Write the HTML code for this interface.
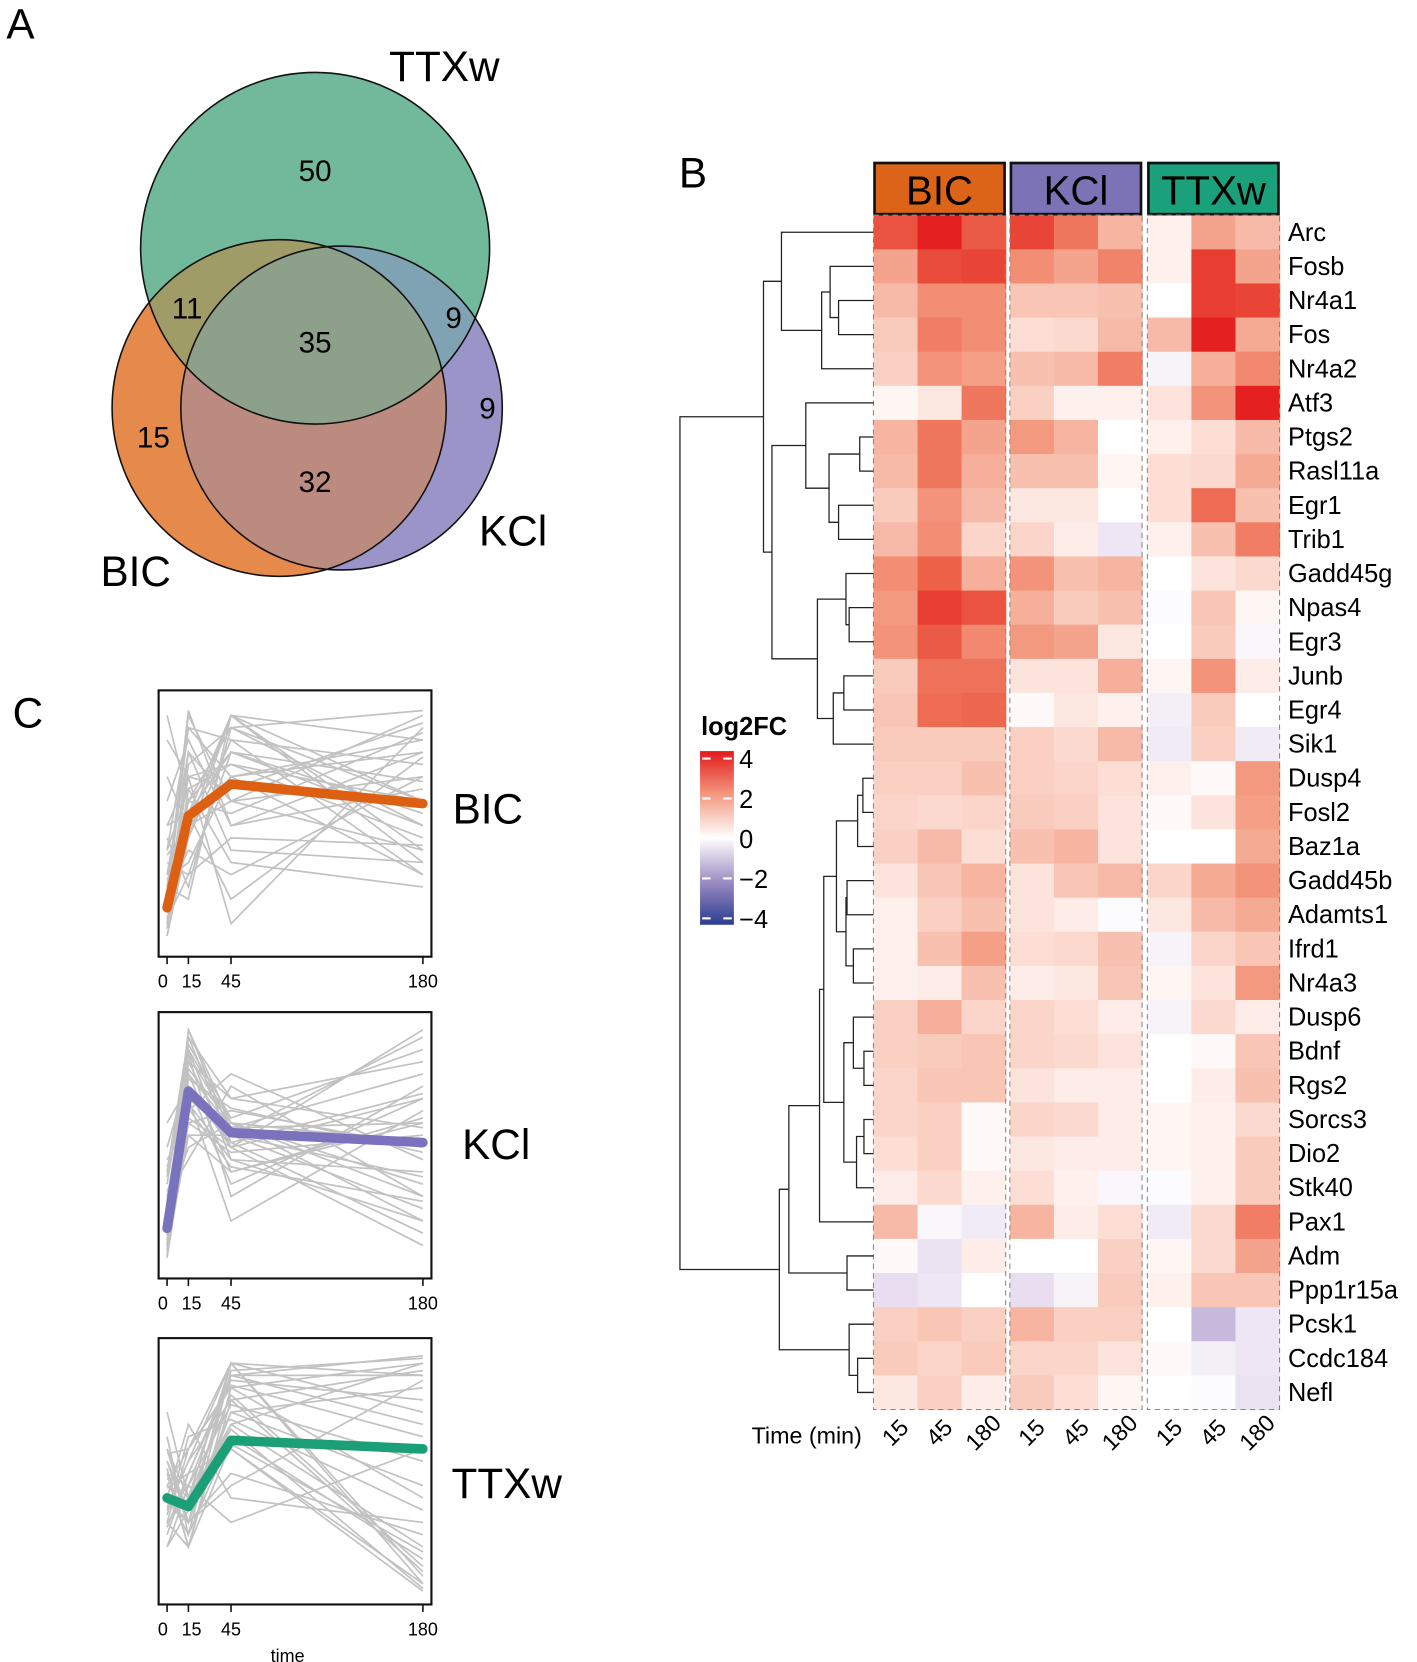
<!DOCTYPE html>
<html><head><meta charset="utf-8"><style>
html,body{margin:0;padding:0;background:#fff;}
svg{display:block;font-family:"Liberation Sans",sans-serif;}
</style></head><body>
<svg id="fig" width="1417" height="1662" viewBox="0 0 1340 1560" preserveAspectRatio="none" xmlns="http://www.w3.org/2000/svg">
<defs>
<linearGradient id="lg" x1="0" y1="0" x2="0" y2="1">
<stop offset="0" stop-color="#e31a1c"/><stop offset="0.25" stop-color="#f3997f"/><stop offset="0.5" stop-color="#ffffff"/><stop offset="0.75" stop-color="#9d8dc3"/><stop offset="1" stop-color="#2b3c8f"/>
</linearGradient>
<clipPath id="cT"><circle cx="298" cy="233" r="165"/></clipPath>
<clipPath id="cK"><circle cx="323" cy="383" r="152"/></clipPath>
</defs>
<!-- Panel A: Venn -->
<g>
<text x="6" y="36" font-size="40">A</text>
<circle cx="264" cy="383" r="158" fill="#e58a4a"/>
<circle cx="323" cy="383" r="152" fill="#9a94c8"/>
<circle cx="298" cy="233" r="165" fill="#72b89b"/>
<g clip-path="url(#cT)"><circle cx="264" cy="383" r="158" fill="#a09c68"/><circle cx="323" cy="383" r="152" fill="#80a3b3"/></g>
<g clip-path="url(#cK)"><circle cx="264" cy="383" r="158" fill="#bc8b80"/></g>
<g clip-path="url(#cT)"><g clip-path="url(#cK)"><circle cx="264" cy="383" r="158" fill="#8ca08a"/></g></g>
<circle cx="264" cy="383" r="158" fill="none" stroke="#111" stroke-width="1.5"/>
<circle cx="323" cy="383" r="152" fill="none" stroke="#111" stroke-width="1.5"/>
<circle cx="298" cy="233" r="165" fill="none" stroke="#111" stroke-width="1.5"/>
<g font-size="28" text-anchor="middle">
<text x="298" y="170">50</text>
<text x="177" y="299">11</text>
<text x="298" y="331">35</text>
<text x="429" y="308">9</text>
<text x="461" y="393">9</text>
<text x="145" y="420">15</text>
<text x="298" y="462">32</text>
</g>
<text x="368" y="76" font-size="40">TTXw</text>
<text x="95" y="550" font-size="40">BIC</text>
<text x="453" y="512" font-size="40">KCl</text>
</g>
<text x="642" y="176" font-size="40">B</text>
<text x="12" y="683" font-size="40">C</text>
<g id="heat"></g>
<g id="dendro" stroke="#222" stroke-width="1.2" fill="none"></g>
<g>
<text x="663" y="690" font-size="24" font-weight="bold">log2FC</text>
<rect x="662" y="705" width="32" height="163" fill="url(#lg)"/>
<g font-size="24" id="legticks"></g>
</g>
<g id="lines"></g>
</svg>
<script>
const NS="http://www.w3.org/2000/svg";
function mk(tag,attrs,parent,txt){const e=document.createElementNS(NS,tag);for(const k in attrs)e.setAttribute(k,attrs[k]);if(txt!==undefined)e.textContent=txt;parent.appendChild(e);return e;}

// ---- heatmap data ----
const genes=["Arc","Fosb","Nr4a1","Fos","Nr4a2","Atf3","Ptgs2","Rasl11a","Egr1","Trib1","Gadd45g","Npas4","Egr3","Junb","Egr4","Sik1","Dusp4","Fosl2","Baz1a","Gadd45b","Adamts1","Ifrd1","Nr4a3","Dusp6","Bdnf","Rgs2","Sorcs3","Dio2","Stk40","Pax1","Adm","Ppp1r15a","Pcsk1","Ccdc184","Nefl"];
const groups=["BIC","KCl","TTXw"];
const times=["15","45","180"];
const legendTicks=[4,2,0,-2,-4];
const log2fc=[
[3.2,3.9,3.1,3.4,2.6,1.5,0.3,1.8,1.4],
[1.8,3.3,3.4,2.2,1.8,2.4,0.3,3.5,1.8],
[1.4,2.2,2.2,1.2,1.2,1.3,0,3.5,3.4],
[1.1,2.5,2.2,0.7,0.8,1.4,1.4,3.9,1.7],
[1.0,2.1,1.9,1.3,1.4,2.5,-0.3,1.6,2.3],
[0.2,0.5,2.6,1.0,0.3,0.3,0.6,2.1,3.9],
[1.5,2.6,1.8,2.0,1.5,0,0.3,0.7,1.4],
[1.4,2.6,1.6,1.3,1.3,0.2,0.7,0.8,1.7],
[1.1,2.1,1.4,0.5,0.5,0,0.7,2.8,1.3],
[1.4,2.2,0.9,0.9,0.4,-0.6,0.3,1.3,2.5],
[2.2,3.0,1.6,2.1,1.3,1.5,0,0.6,0.8],
[2.0,3.5,3.2,1.6,1.1,1.3,-0.1,1.2,0.2],
[2.1,3.1,2.3,2.0,1.8,0.5,0,1.1,-0.2],
[1.1,2.7,2.7,0.6,0.6,1.6,0.2,2.1,0.4],
[1.2,2.8,2.9,0.1,0.5,0.3,-0.4,1.1,0],
[1.1,1.1,1.1,1.0,0.8,1.4,-0.5,1.0,-0.5],
[1.0,1.0,1.3,1.0,0.9,0.7,0.3,0.1,2.0],
[0.9,0.8,0.9,1.1,1.0,0.6,0.1,0.6,1.9],
[1.0,1.4,0.7,1.3,1.5,0.6,0,0,1.7],
[0.6,1.2,1.5,0.6,1.2,1.4,0.9,1.7,2.1],
[0.3,1.0,1.3,0.6,0.4,-0.1,0.5,1.4,1.7],
[0.3,1.3,1.9,0.7,0.8,1.3,-0.3,0.9,1.2],
[0.3,0.4,1.3,0.4,0.5,1.2,0.2,0.6,2.0],
[1.0,1.6,0.9,0.9,0.7,0.4,-0.3,0.8,0.4],
[1.0,1.1,1.2,0.9,0.8,0.6,0,0.1,1.2],
[0.9,1.2,1.2,0.6,0.4,0.4,0,0.4,1.3],
[0.9,1.0,0.1,0.9,0.8,0.4,0.2,0.3,0.8],
[0.7,1.0,0.1,0.5,0.4,0.4,0.2,0.3,1.1],
[0.4,0.8,0.3,0.7,0.3,-0.2,-0.1,0.3,1.1],
[1.4,-0.2,-0.5,1.5,0.4,0.7,-0.5,0.8,2.5],
[0.1,-0.7,0.4,0,0,1.0,0.2,0.8,1.8],
[-0.8,-0.6,0,-0.8,-0.3,1.1,0.3,1.2,1.2],
[1.0,1.2,1.0,1.5,1.0,1.0,0,-1.4,-0.6],
[1.1,0.9,1.1,0.9,0.9,0.6,0.1,-0.4,-0.6],
[0.5,1.0,0.4,1.1,0.7,0.2,0,-0.1,-0.7]
];
// dendrogram: [mergeX, left, right]; leaves = row index
const tree=[643,
 [722,
   [739,0,[777,[785,1,[793,2,3]],4]],
   [730,
     [762,5,[784,[813,6,7],[793,8,9]]],
     [773,[800,10,[803,11,12]],[788,[798,13,14],15]]]],
 [737,
   [746,
     [775,
       [779,
         [791,[811,[816,16,17],18],[800,[801,19,20],[807,21,22]]],
         [798,[807,23,[817,24,25]],[810,[817,26,27],28]]],
       29],
     [801,30,31]],
   [803,32,[811,33,34]]]];

const colStops=[[-4,[43,60,143]],[-3,[106,95,168]],[-2,[157,141,195]],[-1,[226,214,236]],[0,[255,255,255]],[1,[250,208,195]],[2,[243,153,127]],[3,[236,97,72]],[4,[227,26,28]]];
function color(v){v=Math.max(-4,Math.min(4,v));for(let i=0;i<colStops.length-1;i++){const a=colStops[i],b=colStops[i+1];if(v<=b[0]){const t=(v-a[0])/(b[0]-a[0]);const c=a[1].map((x,j)=>Math.round(x+(b[1][j]-x)*t));return `rgb(${c[0]},${c[1]},${c[2]})`;}}return "rgb(227,26,28)";}

const heat=document.getElementById('heat');
const groupX=[826,955,1085], groupW=125, hmTop=202, rowH=(1323-202)/genes.length;
const headCols=["#dc6418","#7b73b5","#1aa07a"];
const rowY=i=>hmTop+i*rowH;
const colX=(g,t)=>groupX[g]+t*groupW/3;
for(let i=0;i<genes.length;i++){
  for(let g=0;g<3;g++)for(let t=0;t<3;t++){
    const r=mk('rect',{x:colX(g,t),y:rowY(i),width:groupW/3+0.6,height:rowH+0.6,fill:color(log2fc[i][g*3+t])},heat);
    
    
  }
  const l=mk('text',{x:1218,y:rowY(i)+rowH/2+8,'font-size':24},heat,genes[i]);
  
  
}
for(let g=0;g<3;g++){
  const b=mk('rect',{x:groupX[g]+1,y:153,width:groupW-2,height:48,fill:headCols[g],stroke:'#111','stroke-width':2.5},heat);
  
  
  const tx=mk('text',{x:groupX[g]+groupW/2,y:192,'font-size':38,'text-anchor':'middle'},heat,groups[g]);
  
  
  mk('rect',{x:groupX[g],y:hmTop,width:groupW,height:rowH*genes.length,fill:'none',stroke:'#888','stroke-width':1,'stroke-dasharray':'5 4'},heat);
  for(let t=0;t<3;t++){
    const cx=colX(g,t)+groupW/6;
    const tl=mk('text',{x:cx,y:1352,'font-size':22,'text-anchor':'middle',transform:`rotate(-45 ${cx} 1345)`},heat,times[t]);
    
    
  }
}
const tm=mk('text',{x:815,y:1355,'font-size':22,'text-anchor':'end'},heat,'Time (min)');



// dendrogram
const dg=document.getElementById('dendro');
function draw(n){
  if(typeof n==='number')return {x:826,y:rowY(n)+rowH/2};
  const a=draw(n[1]),b=draw(n[2]);const x=n[0];
  mk('path',{d:`M${a.x},${a.y}H${x}V${b.y}H${b.x}`},dg);
  return {x:x,y:(a.y+b.y)/2};
}
draw(tree);

// legend ticks
const lt=document.getElementById('legticks');
const legY=v=>787-v*18.75;
legendTicks.forEach(v=>{
  mk('line',{x1:664,x2:672,y1:legY(v),y2:legY(v),stroke:'#fff','stroke-width':2},lt);
  mk('line',{x1:684,x2:692,y1:legY(v),y2:legY(v),stroke:'#fff','stroke-width':2},lt);
  const t=mk('text',{x:699,y:legY(v)+9},lt,v<0?'\u2212'+Math.abs(v):String(v));
  
  
});

// ---- trajectory panels ----
const timePoints=[0,15,45,180];
const meanBIC=[0.165,0.54,0.67,0.59];
const meanKCl=[0.17,0.73,0.56,0.52];
const meanTTXw=[0.40,0.365,0.635,0.60];
const grayBIC=[[0.1,0.55,0.95,0.6],[0.2,0.97,0.5,0.8],[0.15,0.6,0.9,0.97],[0.3,0.8,0.6,0.4],[0.05,0.5,0.7,0.3],[0.95,0.6,0.8,0.5],[0.4,0.9,0.7,0.85],[0.25,0.2,0.95,0.35],[0.5,0.7,0.1,0.9],[0.12,0.45,0.85,0.75],[0.35,0.3,0.8,0.55],[0.6,0.85,0.5,0.65],[0.18,0.7,0.65,0.92],[0.22,0.4,0.3,0.7],[0.08,0.65,0.75,0.45],[0.45,0.25,0.9,0.6],[0.3,0.6,0.55,0.88],[0.7,0.5,0.95,0.4],[0.15,0.8,0.4,0.35],[0.28,0.35,0.7,0.8],[0.1,0.75,0.9,0.5],[0.5,0.55,0.2,0.78],[0.2,0.9,0.85,0.3],[0.38,0.5,0.6,0.95],[0.12,0.3,0.45,0.42],[0.85,0.7,0.75,0.6],[0.25,0.95,0.6,0.7],[0.05,0.45,0.95,0.85],[0.4,0.65,0.35,0.25],[0.2,0.55,0.8,0.68]];
const grayKCl=[[0.2,0.98,0.6,0.3],[0.1,0.85,0.5,0.7],[0.3,0.7,0.55,0.95],[0.15,0.9,0.45,0.2],[0.05,0.6,0.65,0.5],[0.4,0.95,0.7,0.85],[0.25,0.5,0.6,0.35],[0.12,0.8,0.4,0.6],[0.6,0.75,0.5,0.1],[0.18,0.65,0.8,0.45],[0.35,0.88,0.3,0.75],[0.08,0.55,0.55,0.25],[0.22,0.92,0.62,0.9],[0.45,0.6,0.48,0.55],[0.1,0.7,0.2,0.65],[0.3,0.45,0.75,0.3],[0.15,0.95,0.52,0.15],[0.5,0.8,0.58,0.8],[0.2,0.68,0.45,0.4],[0.28,0.85,0.7,0.58],[0.06,0.75,0.35,0.7],[0.38,0.9,0.6,0.2],[0.14,0.62,0.5,0.98],[0.24,0.78,0.66,0.48],[0.32,0.55,0.4,0.62],[0.1,0.98,0.55,0.38],[0.42,0.72,0.52,0.72],[0.18,0.82,0.6,0.52],[0.26,0.66,0.42,0.28],[0.08,0.88,0.58,0.6]];
const grayTTXw=[[0.4,0.3,0.95,0.05],[0.35,0.45,0.9,0.98],[0.5,0.2,0.8,0.1],[0.3,0.6,0.85,0.95],[0.45,0.35,0.7,0.2],[0.6,0.4,0.95,0.9],[0.25,0.5,0.6,0.02],[0.55,0.3,0.75,0.85],[0.4,0.7,0.4,0.3],[0.2,0.35,0.9,0.7],[0.65,0.25,0.65,0.15],[0.35,0.55,0.8,0.92],[0.5,0.45,0.3,0.6],[0.3,0.2,0.85,0.4],[0.45,0.6,0.95,0.08],[0.75,0.4,0.7,0.95],[0.38,0.3,0.5,0.25],[0.28,0.5,0.88,0.8],[0.55,0.35,0.6,0.05],[0.42,0.25,0.92,0.97],[0.33,0.65,0.72,0.35],[0.48,0.4,0.82,0.12],[0.6,0.3,0.45,0.88],[0.2,0.45,0.78,0.55],[0.36,0.55,0.95,0.75],[0.52,0.2,0.62,0.18],[0.44,0.5,0.9,0.9],[0.3,0.4,0.68,0.03],[0.58,0.6,0.86,0.65],[0.4,0.35,0.75,0.45]];

const panels=[
 {name:'bic',label:'BIC',top:648,gray:grayBIC,mean:meanBIC,col:'#dc5f12',lx:428,ly:773},
 {name:'kcl',label:'KCl',top:950,gray:grayKCl,mean:meanKCl,col:'#7b72bd',lx:437,ly:1088},
 {name:'ttxw',label:'TTXw',top:1256,gray:grayTTXw,mean:meanTTXw,col:'#1a9f76',lx:427,ly:1406}
];
const LG=document.getElementById('lines');
const xS=t=>158+t*1.344;
panels.forEach((p,pi)=>{
  const g=mk('g',{},LG);
  
  
  const yS=v=>p.top+242-v*230;
  p.gray.forEach((row,ri)=>{
    const pl=mk('polyline',{points:row.map((v,k)=>xS(timePoints[k])+','+yS(v)).join(' '),fill:'none',stroke:'#c2c2c2','stroke-width':1.6},g);
    
    
  });
  const m=mk('polyline',{points:p.mean.map((v,k)=>xS(timePoints[k])+','+yS(v)).join(' '),fill:'none',stroke:p.col,'stroke-width':9,'stroke-linecap':'round','stroke-linejoin':'round'},g);
  
  
  const fr=mk('rect',{x:150,y:p.top,width:258,height:250,fill:'none',stroke:'#111','stroke-width':2},g);
  
  
  timePoints.forEach(t=>{
    mk('line',{x1:xS(t),x2:xS(t),y1:p.top+250,y2:p.top+257,stroke:'#111','stroke-width':1.5},g);
    const tl=mk('text',{x:xS(t)+(t===0?-4:(t===15?3:0)),y:p.top+279,'font-size':17,'text-anchor':'middle'},g,String(t));
    
    
  });
  const lb=mk('text',{x:p.lx,y:p.ly,'font-size':40},g,p.label);
  
  
});
const tt=mk('text',{x:272,y:1560,'font-size':17,'text-anchor':'middle'},LG,'time');


</script>
</body></html>
